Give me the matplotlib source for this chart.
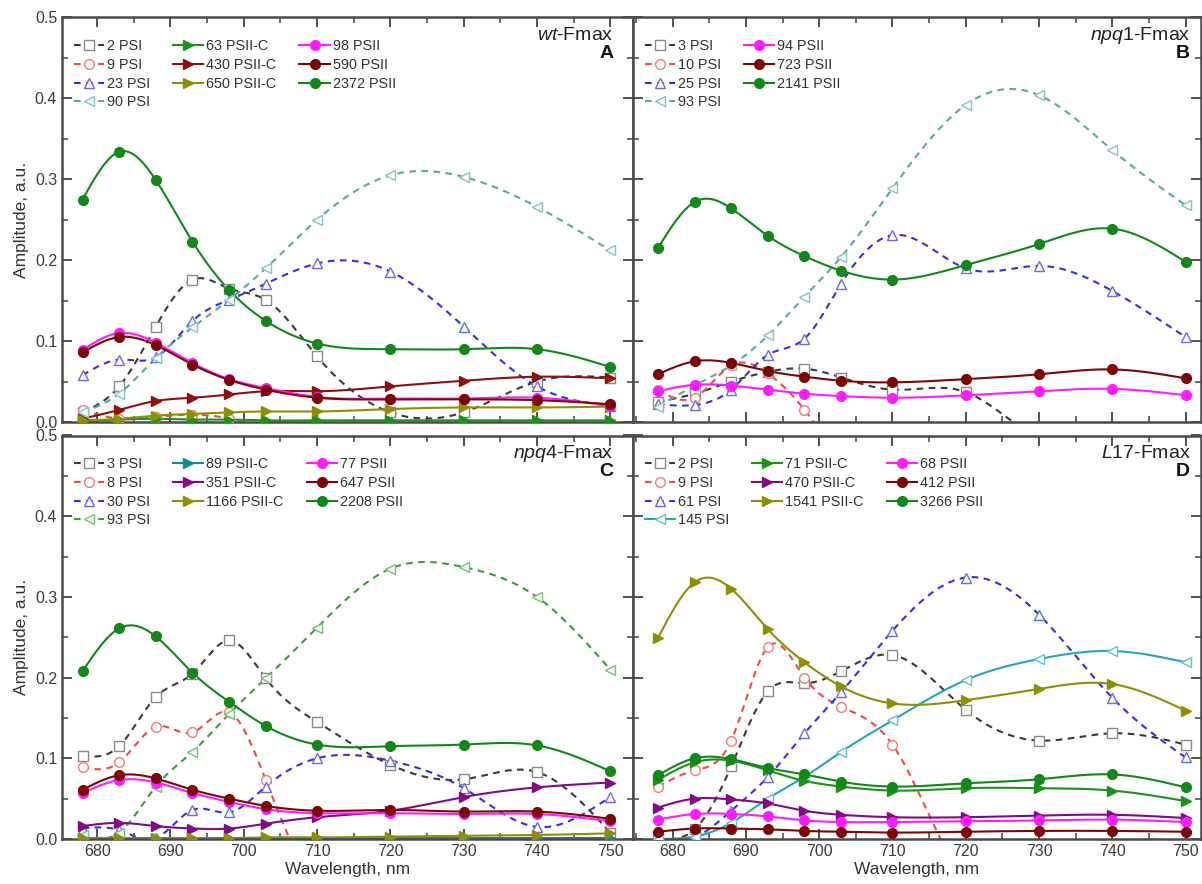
import numpy as np
import matplotlib
matplotlib.use("Agg")
import matplotlib.pyplot as plt
from matplotlib.lines import Line2D
from matplotlib.ticker import MultipleLocator

plt.rcParams['font.family'] = ['Liberation Sans', 'DejaVu Sans']
plt.rcParams['mathtext.fontset'] = 'custom'
plt.rcParams['mathtext.it'] = 'Liberation Sans:italic'
plt.rcParams['mathtext.rm'] = 'Liberation Sans'

# ---------------- data ----------------
wavelength = [678, 683, 688, 693, 698, 703, 710, 720, 730, 740, 750]

# Panel A: wt-Fmax
wt_labels = ["2 PSI", "9 PSI", "23 PSI", "90 PSI",
             "63 PSII-C", "430 PSII-C", "650 PSII-C",
             "98 PSII", "590 PSII", "2372 PSII"]
wt_2psi = [0.012, 0.044, 0.118, 0.176, 0.165, 0.151, 0.081, 0.012, 0.012, 0.050, 0.055]
wt_9psi = [0.015, 0.004, 0.006, 0.009, 0.004, -0.010, -0.020, -0.020, -0.020, -0.020, -0.020]
wt_23psi = [0.058, 0.077, 0.080, 0.125, 0.151, 0.171, 0.196, 0.186, 0.118, 0.044, 0.020]
wt_90psi = [0.012, 0.035, 0.079, 0.117, 0.151, 0.190, 0.250, 0.305, 0.303, 0.266, 0.212]
wt_63c = [0.001, 0.003, 0.004, 0.003, 0.003, 0.002, 0.002, 0.002, 0.002, 0.002, 0.002]
wt_430c = [0.004, 0.015, 0.026, 0.030, 0.034, 0.038, 0.038, 0.044, 0.051, 0.056, 0.054]
wt_650c = [0.002, 0.004, 0.008, 0.010, 0.012, 0.013, 0.013, 0.016, 0.018, 0.018, 0.019]
wt_98 = [0.089, 0.110, 0.098, 0.073, 0.053, 0.042, 0.031, 0.029, 0.029, 0.030, 0.020]
wt_590 = [0.086, 0.105, 0.095, 0.071, 0.052, 0.040, 0.030, 0.028, 0.028, 0.027, 0.022]
wt_2372 = [0.275, 0.334, 0.299, 0.223, 0.163, 0.125, 0.097, 0.090, 0.090, 0.090, 0.068]

# Panel B: npq1-Fmax
npq1_labels = ["3 PSI", "10 PSI", "25 PSI", "93 PSI",
               "94 PSII", "723 PSII", "2141 PSII"]
npq1_3psi = [0.025, 0.035, 0.050, 0.062, 0.066, 0.055, 0.040, 0.037, -0.020, -0.030, -0.030]
npq1_10psi = [0.040, 0.030, 0.070, 0.060, 0.015, -0.040, -0.040, -0.040, -0.040, -0.040, -0.040]
npq1_25psi = [0.022, 0.021, 0.040, 0.083, 0.103, 0.171, 0.231, 0.190, 0.193, 0.162, 0.105]
npq1_93psi = [0.019, 0.045, 0.070, 0.107, 0.155, 0.204, 0.289, 0.392, 0.404, 0.336, 0.268]
npq1_94 = [0.038, 0.046, 0.045, 0.040, 0.035, 0.032, 0.030, 0.033, 0.038, 0.041, 0.033]
npq1_723 = [0.059, 0.075, 0.073, 0.063, 0.056, 0.051, 0.049, 0.053, 0.059, 0.065, 0.054]
npq1_2141 = [0.215, 0.272, 0.264, 0.230, 0.205, 0.187, 0.176, 0.194, 0.220, 0.239, 0.198]

# Panel C: npq4-Fmax
npq4_labels = ["3 PSI", "8 PSI", "30 PSI", "93 PSI",
               "89 PSII-C", "351 PSII-C", "1166 PSII-C",
               "77 PSII", "647 PSII", "2208 PSII"]
npq4_3psi = [0.103, 0.115, 0.176, 0.205, 0.246, 0.199, 0.145, 0.092, 0.074, 0.083, 0.008]
npq4_8psi = [0.089, 0.095, 0.139, 0.132, 0.157, 0.073, -0.060, -0.060, -0.060, -0.060, -0.060]
npq4_30psi = [0.013, 0.011, 0.001, 0.036, 0.033, 0.065, 0.100, 0.097, 0.063, 0.015, 0.052]
npq4_93psi = [0.005, 0.008, 0.065, 0.108, 0.155, 0.199, 0.262, 0.335, 0.337, 0.300, 0.210]
npq4_89c = [0.001, 0.001, 0.001, 0.001, 0.001, 0.001, 0.001, 0.001, 0.001, 0.001, 0.001]
npq4_351c = [0.016, 0.020, 0.016, 0.013, 0.013, 0.019, 0.027, 0.035, 0.052, 0.064, 0.070]
npq4_1166c = [0.001, 0.001, 0.001, 0.001, 0.001, 0.002, 0.002, 0.003, 0.004, 0.005, 0.007]
npq4_77 = [0.057, 0.073, 0.070, 0.057, 0.046, 0.037, 0.032, 0.032, 0.031, 0.031, 0.022]
npq4_647 = [0.061, 0.079, 0.075, 0.061, 0.050, 0.041, 0.035, 0.036, 0.034, 0.034, 0.025]
npq4_2208 = [0.208, 0.261, 0.251, 0.206, 0.170, 0.140, 0.117, 0.115, 0.117, 0.116, 0.084]

# Panel D: L17-Fmax
l17_labels = ["2 PSI", "9 PSI", "61 PSI", "145 PSI",
              "71 PSII-C", "470 PSII-C", "1541 PSII-C",
              "68 PSII", "412 PSII", "3266 PSII"]
l17_2psi = [0.000, 0.012, 0.090, 0.183, 0.193, 0.208, 0.228, 0.160, 0.122, 0.131, 0.117]
l17_9psi = [0.065, 0.085, 0.122, 0.238, 0.200, 0.164, 0.117, -0.050, -0.050, -0.050, -0.050]
l17_61psi = [0.000, 0.002, 0.035, 0.077, 0.131, 0.182, 0.258, 0.324, 0.278, 0.175, 0.101]
l17_145psi = [0.000, 0.003, 0.020, 0.050, 0.077, 0.108, 0.147, 0.197, 0.223, 0.233, 0.219]
l17_71c = [0.073, 0.095, 0.097, 0.085, 0.072, 0.065, 0.060, 0.063, 0.063, 0.060, 0.047]
l17_470c = [0.039, 0.050, 0.049, 0.044, 0.035, 0.030, 0.027, 0.027, 0.029, 0.030, 0.026]
l17_1541c = [0.249, 0.318, 0.310, 0.260, 0.219, 0.189, 0.168, 0.172, 0.186, 0.192, 0.159]
l17_68 = [0.024, 0.031, 0.031, 0.028, 0.023, 0.021, 0.021, 0.022, 0.023, 0.024, 0.021]
l17_412 = [0.009, 0.013, 0.013, 0.012, 0.010, 0.009, 0.008, 0.009, 0.010, 0.010, 0.009]
l17_3266 = [0.079, 0.100, 0.099, 0.088, 0.080, 0.071, 0.065, 0.069, 0.074, 0.080, 0.064]

# ---------------- styles ----------------
DASH = (0, (3.2, 2.6))
STY = {
    'sq':   dict(color='#3a3a3a', ls=DASH, marker='s', mfc='white', mec='#8a8a8a'),
    'ci':   dict(color='#ee4a4a', ls=DASH, marker='o', mfc='white', mec='#f27a7a'),
    'tu':   dict(color='#3434d4', ls=DASH, marker='^', mfc='white', mec='#6a6af0'),
    'tl':   dict(color='#5ea6a6', ls=DASH, marker='<', mfc='white', mec='#86c4c4'),
    'tlg':  dict(color='#3f9a3f', ls=DASH, marker='<', mfc='white', mec='#78c078'),
    'tlc':  dict(color='#27a6b6', ls='-', marker='<', mfc='white', mec='#5cc4d0'),
    'cg':   dict(color='#1c921c', ls='-', marker='>', mfc='#1c921c', mec='#1c921c'),
    'cdr':  dict(color='#8e1010', ls='-', marker='>', mfc='#8e1010', mec='#8e1010'),
    'col':  dict(color='#8f8f06', ls='-', marker='>', mfc='#8f8f06', mec='#8f8f06'),
    'cte':  dict(color='#138a98', ls='-', marker='>', mfc='#138a98', mec='#138a98'),
    'cpu':  dict(color='#820a82', ls='-', marker='>', mfc='#820a82', mec='#820a82'),
    'mag':  dict(color='#ff1cff', ls='-', marker='o', mfc='#ff1cff', mec='#ff1cff'),
    'dr':   dict(color='#7c0606', ls='-', marker='o', mfc='#7c0606', mec='#7c0606'),
    'gr':   dict(color='#12881a', ls='-', marker='o', mfc='#12881a', mec='#12881a'),
}

W, H = 1202, 884


def spline_curve(x, y, num=400):
    x = np.asarray(x, float)
    y = np.asarray(y, float)
    n = len(x)
    h = np.diff(x)
    A = np.zeros((n, n))
    b = np.zeros(n)
    A[0, 0] = 1
    A[-1, -1] = 1
    for i in range(1, n - 1):
        A[i, i - 1] = h[i - 1]
        A[i, i] = 2 * (h[i - 1] + h[i])
        A[i, i + 1] = h[i]
        b[i] = 6 * ((y[i + 1] - y[i]) / h[i] - (y[i] - y[i - 1]) / h[i - 1])
    M = np.linalg.solve(A, b)
    xs = np.linspace(x[0], x[-1], num)
    idx = np.clip(np.searchsorted(x, xs) - 1, 0, n - 2)
    x0, x1 = x[idx], x[idx + 1]
    hh = x1 - x0
    t0 = x1 - xs
    t1 = xs - x0
    ys = (M[idx] * t0 ** 3 / (6 * hh) + M[idx + 1] * t1 ** 3 / (6 * hh)
          + (y[idx] / hh - M[idx] * hh / 6) * t0
          + (y[idx + 1] / hh - M[idx + 1] * hh / 6) * t1)
    return xs, ys


def make_ax(fig, left, top, width, height, xlim):
    ax = fig.add_axes([left / W, (H - top - height) / H, width / W, height / H])
    ax.set_xlim(*xlim)
    ax.set_ylim(0, 0.5)
    ax.xaxis.set_major_locator(MultipleLocator(10))
    ax.xaxis.set_minor_locator(MultipleLocator(5))
    ax.yaxis.set_major_locator(MultipleLocator(0.1))
    ax.yaxis.set_minor_locator(MultipleLocator(0.05))
    ax.tick_params(which='both', direction='in', top=True, right=True,
                   color='#444444', labelcolor='#3c3c3c', labelsize=11.5)
    ax.tick_params(which='major', length=7, width=1.3)
    ax.tick_params(which='minor', length=4, width=1.1)
    for s in ax.spines.values():
        s.set_linewidth(1.8)
        s.set_color('#4a4a4a')
    return ax


def draw_panel(ax, series, labels, title, letter, ncol, tx):
    handles = []
    for (vals, key), lab in zip(series, labels):
        st = STY[key]
        xs, ys = spline_curve(wavelength, vals)
        ax.plot(xs, ys, color=st['color'], ls=st['ls'], lw=1.5, zorder=2)
        ax.plot(wavelength, vals, ls='none', marker=st['marker'], ms=7,
                mfc=st['mfc'], mec=st['mec'], mew=1.0, zorder=3)
        handles.append(Line2D([], [], color=st['color'], ls=st['ls'], lw=1.5,
                              marker=st['marker'], ms=7, mfc=st['mfc'],
                              mec=st['mec'], mew=1.0))
    leg = ax.legend(handles, labels, loc='upper left', ncol=ncol, frameon=False,
                    fontsize=10.4, handlelength=2.1, handletextpad=0.2,
                    columnspacing=1.6, labelspacing=0.33,
                    bbox_to_anchor=(0.0, 0.975), borderaxespad=0.4)
    for t in leg.get_texts():
        t.set_color('#333333')
    ax.text(tx, 0.955, title, transform=ax.transAxes, ha='right', va='center',
            fontsize=14, color='#222222')
    ax.text(tx, 0.910, letter, transform=ax.transAxes, ha='right', va='center',
            fontsize=14, fontweight='bold', color='#111111')


fig = plt.figure(figsize=(W / 100, H / 100), dpi=100)

xl_left = (675.2, 753.1)
xl_right = (674.6, 752.1)

axA = make_ax(fig, 62, 17.5, 571, 404.5, xl_left)
axB = make_ax(fig, 633, 17.5, 568, 404.5, xl_right)
axC = make_ax(fig, 62, 435.5, 571, 403.5, xl_left)
axD = make_ax(fig, 633, 435.5, 568, 403.5, xl_right)

draw_panel(axA, [(wt_2psi, 'sq'), (wt_9psi, 'ci'), (wt_23psi, 'tu'), (wt_90psi, 'tl'),
                 (wt_63c, 'cg'), (wt_430c, 'cdr'), (wt_650c, 'col'),
                 (wt_98, 'mag'), (wt_590, 'dr'), (wt_2372, 'gr')],
           wt_labels, r"$\mathit{wt}$-Fmax", "A", 3, 0.966)
draw_panel(axB, [(npq1_3psi, 'sq'), (npq1_10psi, 'ci'), (npq1_25psi, 'tu'), (npq1_93psi, 'tl'),
                 (npq1_94, 'mag'), (npq1_723, 'dr'), (npq1_2141, 'gr')],
           npq1_labels, r"$\mathit{npq1}$-Fmax", "B", 2, 0.981)
draw_panel(axC, [(npq4_3psi, 'sq'), (npq4_8psi, 'ci'), (npq4_30psi, 'tu'), (npq4_93psi, 'tlg'),
                 (npq4_89c, 'cte'), (npq4_351c, 'cpu'), (npq4_1166c, 'col'),
                 (npq4_77, 'mag'), (npq4_647, 'dr'), (npq4_2208, 'gr')],
           npq4_labels, r"$\mathit{npq4}$-Fmax", "C", 3, 0.966)
draw_panel(axD, [(l17_2psi, 'sq'), (l17_9psi, 'ci'), (l17_61psi, 'tu'), (l17_145psi, 'tlc'),
                 (l17_71c, 'cg'), (l17_470c, 'cpu'), (l17_1541c, 'col'),
                 (l17_68, 'mag'), (l17_412, 'dr'), (l17_3266, 'gr')],
           l17_labels, r"$\mathit{L}$17-Fmax", "D", 3, 0.981)

for ax in (axA, axB):
    ax.tick_params(labelbottom=False)
for ax in (axB, axD):
    ax.tick_params(labelleft=False)

for ax in (axA, axC):
    ax.set_ylabel("Amplitude, a.u.", fontsize=12.5, color='#333333', labelpad=4)
for ax in (axC, axD):
    ax.set_xlabel("Wavelength, nm", fontsize=12.5, color='#333333', labelpad=2)

fig.savefig("out.png", dpi=100)
